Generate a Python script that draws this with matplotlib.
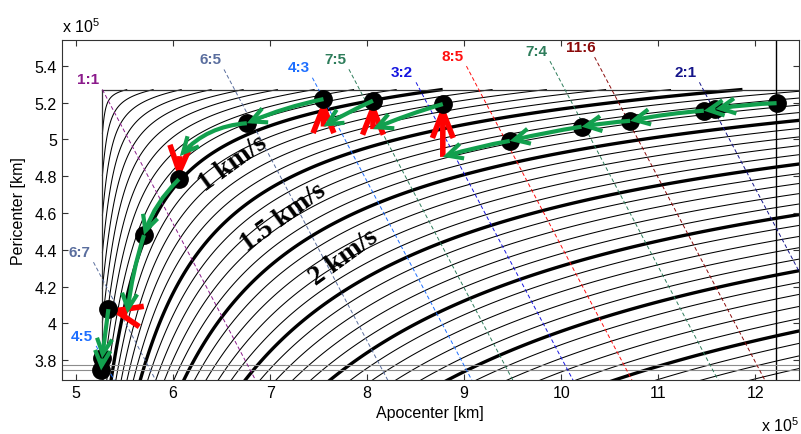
import numpy as np
import matplotlib.pyplot as plt
from matplotlib.patches import FancyArrowPatch

plt.rcParams['font.family'] = ['Liberation Sans', 'DejaVu Sans']
plt.rcParams['mathtext.fontset'] = 'custom'
plt.rcParams['mathtext.rm'] = 'Liberation Sans'

# Saturn system, distances in 1e5 km
mu_saturn = 3.7931187e7      # km^3/s^2
a_rhea = 5.27108
a_titan = 12.2187
a_dione = 3.77396
r_low = 3.745

# v-infinity contour levels [km/s]
thin_levels = [round(0.1 * k, 1) for k in range(1, 46)]
thick_levels = [1.0, 1.5, 2.0, 2.5, 3.0, 3.5, 4.0]
speed_labels = ["1 km/s", "1.5 km/s", "2 km/s"]
speed_label_ra = [6.62, 7.14, 7.76]
speed_label_rp = [4.872, 4.582, 4.36]

# resonances (Rhea revs : spacecraft revs)
res_names = ["1:1", "6:5", "4:3", "7:5", "3:2", "8:5", "7:4", "11:6", "2:1", "6:7", "4:5"]
res_p = [1, 6, 4, 7, 3, 8, 7, 11, 2, 6, 4]
res_q = [1, 5, 3, 5, 2, 5, 4, 6, 1, 7, 5]
res_top_rp = [5.271, 5.38, 5.335, 5.381, 5.31, 5.398, 5.425, 5.447, 5.31, 4.333, 3.878]
res_colors = ["#8b1a8b", "#5a6e9e", "#1e6fff", "#2e7d5b", "#1515e0", "#ff1010",
              "#2e7d5b", "#8b0a0a", "#15158a", "#5a6e9e", "#1e6fff"]

# flyby sequence (apocenter, pericenter) in 1e5 km
flyby_ra = [12.22, 11.59, 11.47, 10.71, 10.21, 9.47, 8.78, 8.06, 7.55, 6.76, 6.06, 5.70, 5.333, 5.268, 5.258]
flyby_rp = [5.197, 5.165, 5.156, 5.101, 5.069, 4.992, 5.192, 5.21, 5.219, 5.088, 4.784, 4.480, 4.078, 3.81, 3.745]
# maneuvers: index of the flyby reached, and orbit before the maneuver
dv_idx = [6, 7, 8, 10, 12]
dv_ra = [8.78, 8.06, 7.55, 6.07, 5.53]
dv_rp = [4.905, 5.056, 5.07, 4.909, 4.055]
green_rad = [0.03, 0.0, 0.03, 0.02, 0.02, 0.03, 0.03, 0.03, 0.05, 0.2, 0.12, 0.05, 0.0, 0.0]

GREEN = "#12a04e"
RED = "#ff0000"

fig = plt.figure(figsize=(8.01, 4.35), dpi=100)
ax = fig.add_axes([61.7 / 801, 1 - 381 / 435, (799 - 61.7) / 801, (381 - 41) / 435])
ax.set_xlim(4.852, 12.451)
ax.set_ylim(3.693, 5.54)

# Tisserand v-infinity field relative to Rhea
ra_g = np.linspace(a_rhea, 12.7, 800)
rp_g = np.linspace(3.55, a_rhea, 500)
RA, RP = np.meshgrid(ra_g, rp_g)
sma = (RA + RP) / 2
semi_lat = 2 * RA * RP / (RA + RP)
v_rhea = np.sqrt(mu_saturn / (a_rhea * 1e5))
vinf = v_rhea * np.sqrt(np.clip(3 - a_rhea / sma - 2 * np.sqrt(semi_lat / a_rhea), 0, None))

thin_only = [v for v in thin_levels if v not in thick_levels]
ax.contour(RA, RP, vinf, levels=thin_only, colors="k", linewidths=0.75, zorder=1)
ax.contour(RA, RP, vinf, levels=thick_levels, colors="k", linewidths=2.4, zorder=1)

# boundary lines
ax.plot([a_rhea, 13], [a_rhea, a_rhea], color="#333333", lw=0.9, zorder=1)
ax.plot([a_rhea, a_rhea], [3.0, a_rhea], color="#333333", lw=0.9, zorder=1)
ax.axvline(a_titan, color="k", lw=1.0, zorder=1)
ax.axhline(a_dione, color="#8c8c8c", lw=0.8, zorder=1)
ax.axhline(r_low, color="#8c8c8c", lw=0.8, zorder=1)

# resonance lines
for name, p, q, top, col in zip(res_names, res_p, res_q, res_top_rp, res_colors):
    s = 2 * a_rhea * (p / q) ** (2 / 3)
    bot = 3.4
    ax.plot([s - top, s - bot], [top, bot], color=col, lw=0.7, ls=(0, (4, 2.5)), zorder=2)
    ax.annotate(name, (s - top, top), xytext=(-10, 7.5), textcoords="offset points",
                ha="center", va="center", color=col, fontsize=11, fontweight="bold",
                annotation_clip=False)

for txt, x, y in zip(speed_labels, speed_label_ra, speed_label_rp):
    ax.text(x, y, txt, fontsize=20, family="Liberation Serif", fontweight="bold",
            rotation=36, ha="center", va="center", rotation_mode="anchor", zorder=6)


def arrow(x0, y0, x1, y1, color, lw, hl, hw, rad=0.0, z=3):
    a = FancyArrowPatch((x0, y0), (x1, y1),
                        arrowstyle=f"->,head_length={hl},head_width={hw}",
                        connectionstyle=f"arc3,rad={rad}", color=color, lw=lw,
                        shrinkA=0, shrinkB=0, mutation_scale=1, zorder=z,
                        capstyle="butt", joinstyle="miter")
    ax.add_patch(a)


# maneuvers (red)
for i, x0, y0 in zip(dv_idx, dv_ra, dv_rp):
    arrow(x0, y0, flyby_ra[i], flyby_rp[i], RED, 4.0, 19, 7.5, z=3)

# flyby dots
ax.plot(flyby_ra, flyby_rp, "o", color="k", ms=12.5, zorder=4)

# flyby legs (green)
for k in range(len(flyby_ra) - 1):
    x1, y1 = flyby_ra[k + 1], flyby_rp[k + 1]
    if (k + 1) in dv_idx:
        j = dv_idx.index(k + 1)
        x1, y1 = dv_ra[j], dv_rp[j]
    arrow(flyby_ra[k], flyby_rp[k], x1, y1, GREEN, 3.0, 11, 5.5, rad=green_rad[k], z=5)

ax.set_xticks([5, 6, 7, 8, 9, 10, 11, 12])
ax.set_xticklabels(["5", "6", "7", "8", "9", "10", "11", "12"])
ax.set_yticks([3.8, 4.0, 4.2, 4.4, 4.6, 4.8, 5.0, 5.2, 5.4])
ax.set_yticklabels(["3.8", "4", "4.2", "4.4", "4.6", "4.8", "5", "5.2", "5.4"])
ax.tick_params(direction="in", top=True, right=True, length=4, width=0.8,
               labelsize=11.5, colors="#333333", labelcolor="k")
for sp in ax.spines.values():
    sp.set_color("#333333")
    sp.set_linewidth(0.8)

ax.set_xlabel("Apocenter [km]", fontsize=11.5, labelpad=4)
ax.set_ylabel("Pericenter [km]", fontsize=11.5, labelpad=6)
fig.text(62 / 801, 1 - 33 / 435, r"x 10$^5$", fontsize=11.5, ha="left", va="baseline")
fig.text(761 / 801, 1 - 432 / 435, r"x 10$^5$", fontsize=11.5, ha="left", va="baseline")

fig.savefig("out.png", dpi=100)
